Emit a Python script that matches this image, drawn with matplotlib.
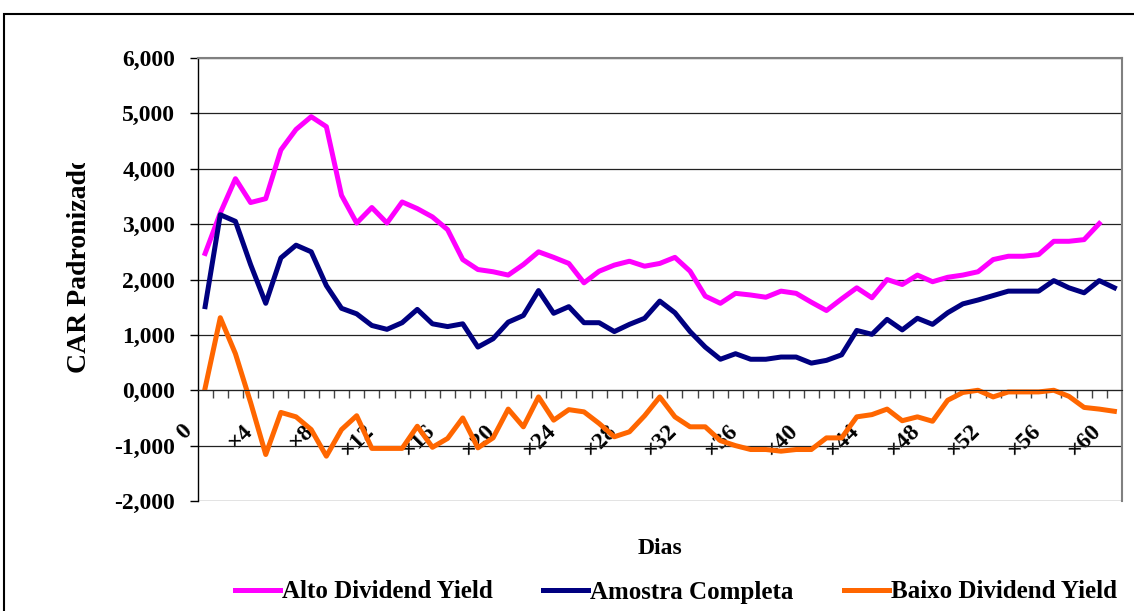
import numpy as np
import matplotlib
matplotlib.use('Agg')
import matplotlib.pyplot as plt
from matplotlib.patches import Rectangle
from matplotlib.transforms import Bbox, TransformedBbox, ScaledTranslation


# data (CAR padronizado per day)

dias = np.arange(61)
tick_dias = dias[::4]
tick_labels = ['0'] + ['×' + str(d) for d in tick_dias[1:]]

alto = [2.47, 3.20, 3.82, 3.39, 3.46, 4.34, 4.71, 4.94, 4.76, 3.52,
        3.02, 3.30, 3.02, 3.40, 3.28, 3.13, 2.90, 2.36, 2.18, 2.14,
        2.08, 2.27, 2.50, 2.40, 2.29, 1.94, 2.15, 2.26, 2.33, 2.24,
        2.29, 2.40, 2.15, 1.70, 1.57, 1.75, 1.72, 1.68, 1.79, 1.75,
        1.59, 1.44, 1.65, 1.85, 1.67, 2.00, 1.91, 2.08, 1.96, 2.04,
        2.08, 2.14, 2.36, 2.42, 2.42, 2.45, 2.69, 2.69, 2.72, 3.01]

amostra = [1.51, 3.17, 3.05, 2.27, 1.57, 2.39, 2.62, 2.50, 1.89, 1.48,
           1.38, 1.17, 1.10, 1.22, 1.46, 1.20, 1.15, 1.20, 0.78, 0.93,
           1.23, 1.35, 1.80, 1.39, 1.51, 1.22, 1.22, 1.06, 1.19, 1.30,
           1.61, 1.40, 1.06, 0.78, 0.56, 0.66, 0.56, 0.56, 0.60, 0.60,
           0.49, 0.54, 0.64, 1.08, 1.01, 1.28, 1.09, 1.30, 1.19, 1.40,
           1.56, 1.63, 1.71, 1.79, 1.79, 1.79, 1.98, 1.85, 1.76, 1.98,
           1.85]

baixo = [0.04, 1.31, 0.66, -0.22, -1.16, -0.40, -0.48, -0.71, -1.19, -0.71,
         -0.46, -1.05, -1.05, -1.05, -0.65, -1.03, -0.87, -0.50, -1.04, -0.86,
         -0.34, -0.66, -0.12, -0.54, -0.35, -0.39, -0.60, -0.84, -0.75, -0.46,
         -0.12, -0.48, -0.66, -0.66, -0.91, -1.00, -1.07, -1.07, -1.10, -1.07,
         -1.07, -0.86, -0.86, -0.48, -0.44, -0.34, -0.55, -0.48, -0.56, -0.18,
         -0.04, 0.00, -0.12, -0.03, -0.03, -0.03, 0.00, -0.11, -0.31, -0.34,
         -0.38]

yticks = np.arange(-2, 7)

plt.rcParams['font.family'] = ['Liberation Serif', 'DejaVu Serif']
plt.rcParams['font.weight'] = 'bold'

fig = plt.figure(figsize=(11.34, 6.11), dpi=100)
ax = fig.add_axes([0.1742, 0.180, 0.8152, 0.7251])

ax.plot(dias[:len(alto)], alto, color='#FF00FF', lw=3.6, label='Alto Dividend Yield')
ax.plot(dias, amostra, color='#000080', lw=3.6, label='Amostra Completa')
ax.plot(dias, baixo, color='#FF6600', lw=3.6, label='Baixo Dividend Yield')

ax.set_xlim(-0.5, 60.5)
ax.set_ylim(-2, 6)

# y axis
ax.set_yticks(yticks)
ax.set_yticklabels([f'{v:.3f}'.replace('.', ',') for v in yticks], fontsize=17, fontweight='bold')
ax.tick_params(axis='y', direction='out', length=6, width=1, pad=10, colors='black')
ax.grid(axis='y', color='#222222', lw=0.9)
ax.set_axisbelow(True)

# x axis sits on zero, ticks between categories
ax.spines['bottom'].set_position(('data', 0))
ax.spines['bottom'].set_color('#222222')
ax.set_xticks(tick_dias)
ax.set_xticklabels(tick_labels, rotation=45, ha='right', va='top', fontsize=17, fontweight='bold')
ax.set_xticks(dias[:-1] + 0.5, minor=True)
ax.tick_params(axis='x', which='major', length=0, pad=22)
ax.tick_params(axis='x', which='minor', direction='out', length=6, width=1, color='#444444')
shift = ScaledTranslation(-9 / 100, 0, fig.dpi_scale_trans)
for lab in ax.get_xticklabels():
    lab.set_transform(lab.get_transform() + shift)

for s in ['top', 'right']:
    ax.spines[s].set_color('#808080')
    ax.spines[s].set_linewidth(1.5)
ax.spines['left'].set_linewidth(1)

# y label, clipped at the top like the original
yl = fig.text(80 / 1134, 1 - 373 / 611, 'CAR Padronizado', rotation=90, ha='center', va='bottom',
              fontsize=20, fontweight='bold')
yl.set_clip_box(TransformedBbox(Bbox.from_extents(0, 0, 1, 1 - 163 / 611), fig.transFigure))
yl.set_clip_on(True)

fig.text(660 / 1134, 1 - 548 / 611, 'Dias', ha='center', va='center', fontsize=17, fontweight='bold')

fig.legend(loc='center', bbox_to_anchor=(676 / 1134, 1 - 592 / 611), ncol=3, frameon=False,
           handlelength=1.8, handletextpad=0.08, columnspacing=2.0,
           prop={'weight': 'bold', 'size': 18})

# chart area border
fig.add_artist(Rectangle((4 / 1134, -0.5), 2, 0.5 + 1 - 14 / 611, transform=fig.transFigure,
                         fill=False, ec='black', lw=1.5, clip_on=False))

fig.savefig('out.png', dpi=100)
